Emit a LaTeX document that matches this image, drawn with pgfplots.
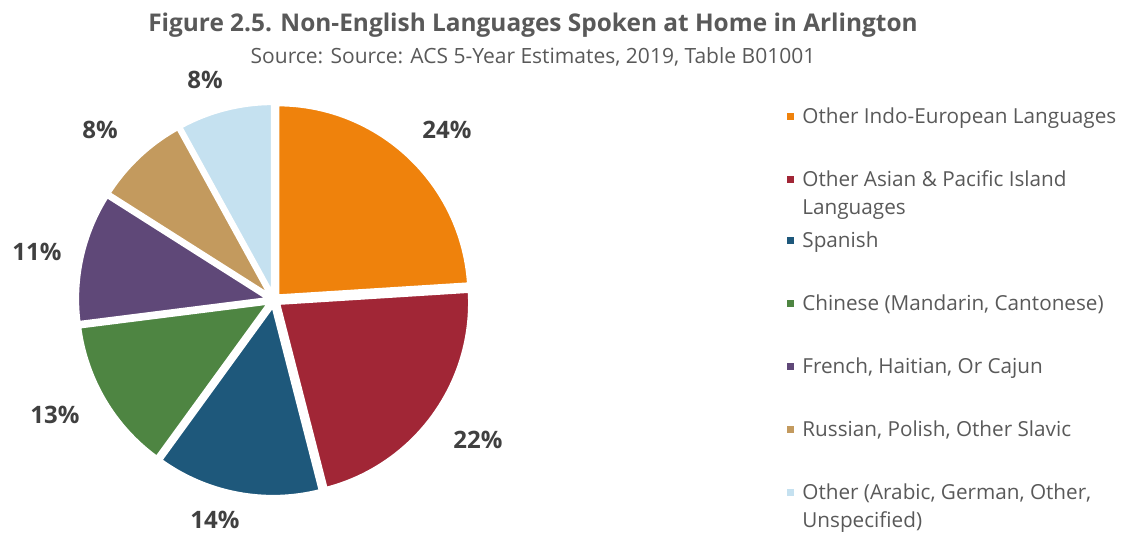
\documentclass[border=0pt]{standalone}
\usepackage{pgfplots}
\pgfplotsset{compat=1.18}
\usepackage{fontspec}
\setmainfont{Open Sans}
\definecolor{c1}{HTML}{EF820C}
\definecolor{c2}{HTML}{A12636}
\definecolor{c3}{HTML}{1E587B}
\definecolor{c4}{HTML}{4E8542}
\definecolor{c5}{HTML}{5F4878}
\definecolor{c6}{HTML}{C39A5E}
\definecolor{c7}{HTML}{C5E1F0}
\definecolor{txt}{HTML}{595959}
\definecolor{lab}{HTML}{404040}
\begin{document}
\begin{tikzpicture}
\begin{axis}[x=0.5pt,y=0.5pt,xmin=0,xmax=1131,ymin=0,ymax=535,hide axis,clip=false,scale only axis]
\pgfplotsextra{
  \path (axis cs:0,0) rectangle (axis cs:1131,535);
  \gdef\cum{90}
  \foreach \p/\c in {24/c1,22/c2,14/c3,13/c4,11/c5,8/c6,8/c7}{
    \pgfmathsetmacro\a{\cum}
    \pgfmathsetmacro\b{\cum-3.6*\p}
    \pgfmathsetmacro\m{(\a+\b)/2}
    \fill[\c, draw=white, line width=2pt] ([shift={(\m:2.5pt)}]axis cs:274,235) -- ++(\a:96pt) arc[start angle=\a, end angle=\b, radius=96pt] -- cycle;
    \xdef\cum{\b}
  }
  % title
  \node[font=\bfseries\fontsize{12.2}{14}\selectfont, text=txt] at (axis cs:533,510) {Figure 2.5. Non-English Languages Spoken at Home in Arlington};
  \node[font=\fontsize{10.5}{12}\selectfont, text=txt] at (axis cs:533,478) {Source: Source: ACS 5-Year Estimates, 2019, Table B01001};
  % labels
  \begin{scope}[every node/.style={font=\bfseries\fontsize{12}{14}\selectfont, text=lab}]
    \node at (axis cs:447,405) {24\%};
    \node at (axis cs:478,95) {22\%};
    \node at (axis cs:215,15) {14\%};
    \node at (axis cs:55,120) {13\%};
    \node at (axis cs:37,283) {11\%};
    \node at (axis cs:100,405) {8\%};
    \node at (axis cs:205,455) {8\%};
  \end{scope}
  % legend
  \begin{scope}[every node/.style={font=\fontsize{10.35}{12}\selectfont, text=txt, anchor=base west, inner sep=0pt}]
    \node at (axis cs:802,411) {Other Indo-European Languages};
    \node at (axis cs:802,348) {Other Asian \& Pacific Island};
    \node at (axis cs:802,320) {Languages};
    \node at (axis cs:802,287) {Spanish};
    \node at (axis cs:802,224) {Chinese (Mandarin, Cantonese)};
    \node at (axis cs:802,161) {French, Haitian, Or Cajun};
    \node at (axis cs:802,98) {Russian, Polish, Other Slavic};
    \node at (axis cs:802,35) {Other (Arabic, German, Other,};
    \node at (axis cs:802,7) {Unspecified)};
  \end{scope}
  \foreach \c/\y in {c1/418,c2/355,c3/294,c4/231,c5/168,c6/105,c7/42}{
    \node[fill=\c, minimum size=3.5pt, inner sep=0pt] at (axis cs:790,\y) {};
  }
}
\end{axis}
\end{tikzpicture}
\end{document}
